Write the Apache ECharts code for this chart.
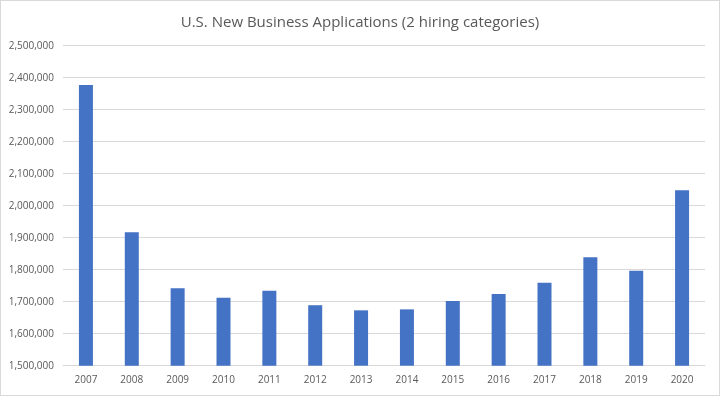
<!DOCTYPE html>
<html>
<head>
<meta charset="utf-8">
<script src="https://cdn.jsdelivr.net/npm/echarts@6/dist/echarts.min.js"></script>
<style>
html,body{margin:0;padding:0;background:#fff;}
#chart{width:718px;height:394px;border:1px solid #d9d9d9;}
</style>
</head>
<body>
<div id="chart"></div>
<script>
var categories = ['2007','2008','2009','2010','2011','2012','2013','2014','2015','2016','2017','2018','2019','2020'];
var applications = [2377000,1917000,1742000,1712000,1734000,1689000,1673000,1676000,1702000,1724000,1759000,1839000,1797000,2048000];
var titleText = 'U.S. New Business Applications (2 hiring categories)';

var chart = echarts.init(document.getElementById('chart'));
chart.setOption({
  animation: false,
  title: {
    text: titleText,
    left: 'center',
    top: 9,
    textStyle: {fontFamily: 'Open Sans', fontSize: 15, fontWeight: 'normal', color: '#595959'}
  },
  grid: {left: 62, right: 14, top: 44.7, bottom: 29.3, containLabel: false},
  xAxis: {
    type: 'category',
    data: categories,
    axisLine: {lineStyle: {color: '#d9d9d9', width: 1}},
    axisTick: {show: false},
    axisLabel: {color: '#595959', fontFamily: 'Open Sans', fontSize: 10, margin: 9}
  },
  yAxis: {
    type: 'value',
    min: 1500000,
    max: 2500000,
    interval: 100000,
    axisLine: {show: false},
    axisTick: {show: false},
    splitLine: {lineStyle: {color: '#d9d9d9', width: 1}},
    axisLabel: {
      color: '#595959', fontFamily: 'Open Sans', fontSize: 10, margin: 9,
      formatter: function (v) { return v.toLocaleString('en-US'); }
    }
  },
  series: [{
    type: 'bar',
    data: applications,
    barWidth: 14,
    itemStyle: {color: '#4472C4'}
  }]
});
</script>
</body>
</html>
